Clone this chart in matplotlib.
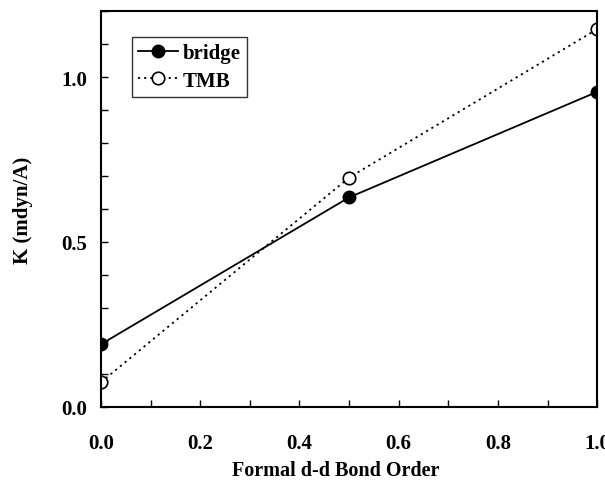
import numpy as np
import matplotlib
matplotlib.use("Agg")
import matplotlib.pyplot as plt
from matplotlib.ticker import MultipleLocator

bond_order = [0.0, 0.5, 1.0]
k_bridge = [0.19, 0.635, 0.955]
k_tmb = [0.075, 0.695, 1.145]

plt.rcParams['font.family'] = ['Liberation Serif', 'DejaVu Serif']
plt.rcParams['font.weight'] = 'bold'

fig = plt.figure(figsize = (6.05, 4.81), dpi = 100)
ax = fig.add_axes([0.167, 0.152, 0.82, 0.823])

ax.plot(bond_order, k_bridge, color = "black", lw = 1.3, marker = "o",
        ms = 9, mfc = "black", mec = "black", label = "bridge")
ax.plot(bond_order, k_tmb, color = "black", lw = 1.3, ls = (0, (1.2, 2.2)),
        marker = "o", ms = 9, mfc = "white", mec = "black", mew = 1.2, label = "TMB")

ax.set_xlim(0, 1.0)
ax.set_ylim(0, 1.2)
ax.xaxis.set_major_locator(MultipleLocator(0.2))
ax.xaxis.set_minor_locator(MultipleLocator(0.1))
ax.yaxis.set_major_locator(MultipleLocator(0.5))
ax.yaxis.set_minor_locator(MultipleLocator(0.1))
ax.xaxis.set_major_formatter(plt.FuncFormatter(lambda v, p: "%.1f" % v))
ax.yaxis.set_major_formatter(plt.FuncFormatter(lambda v, p: "%.1f" % v))
ax.tick_params(which = "both", direction = "in", top = False, right = False,
               labelsize = 15, width = 1, length = 5)
ax.tick_params(axis = "x", pad = 19)
ax.tick_params(axis = "y", pad = 10)
for s in ax.spines.values():
    s.set_linewidth(1.5)

ax.set_xlabel("Formal d-d Bond Order", fontsize = 14.5, fontweight = "bold")
ax.xaxis.set_label_coords(0.472, -0.135)
ax.set_ylabel("K (mdyn/A)", fontsize = 15, fontweight = "bold", labelpad = 20)

leg = ax.legend(loc = "upper left", bbox_to_anchor = (0.0625, 0.934), fontsize = 15,
                frameon = True, fancybox = False, edgecolor = "black",
                handlelength = 1.9, handletextpad = 0.25, borderpad = 0.3,
                labelspacing = 0.35, borderaxespad = 0)
leg.get_frame().set_linewidth(1)
for t in leg.get_texts():
    t.set_fontweight("bold")

plt.savefig("out.png", dpi = 100)
